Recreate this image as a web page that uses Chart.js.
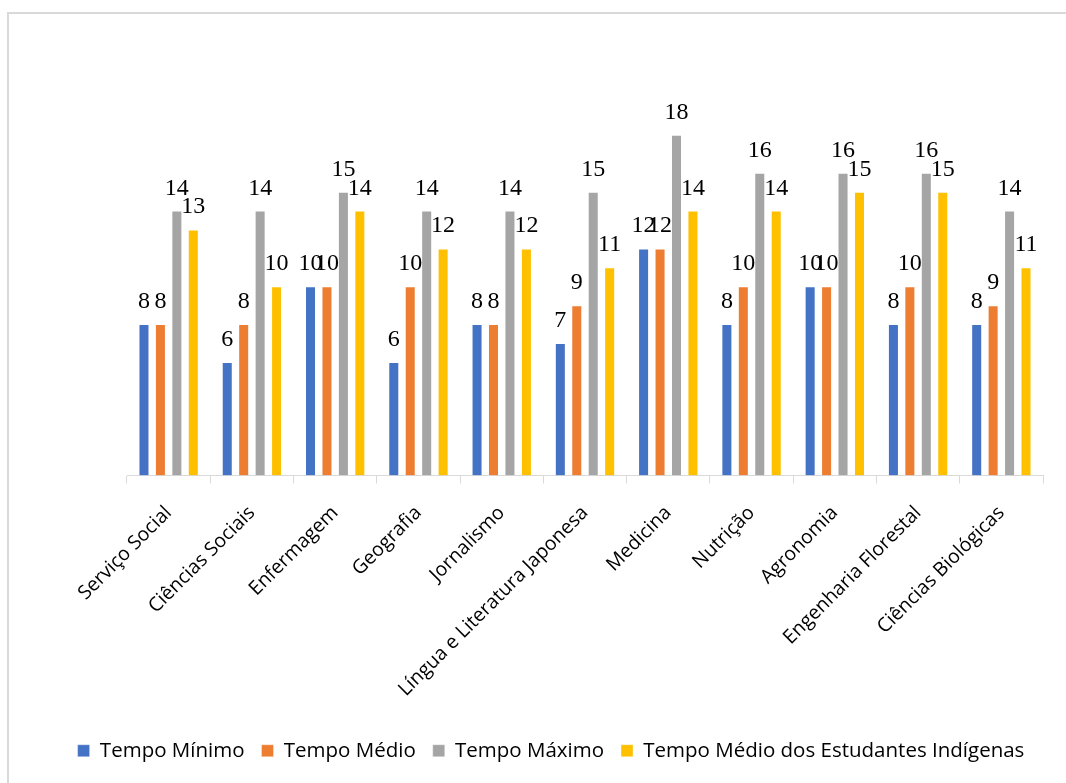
<!DOCTYPE html>
<html lang="pt">
<head>
<meta charset="utf-8">
<title>Tempo de conclusão por curso</title>
<script src="https://cdn.jsdelivr.net/npm/chart.js@4.4.1/dist/chart.umd.min.js"></script>
<style>
    html, body { margin: 0; padding: 0; background: #fff; overflow: hidden; }
    #wrap { position: relative; width: 1066px; height: 783px; overflow: hidden; }
    #frame { position: absolute; left: 7px; top: 12px; width: 1080px; height: 800px; border: 2px solid #d9d9d9; box-sizing: border-box; }
    #grafico { position: absolute; left: 0; top: 0; }
</style>
</head>
<body>
<div id="wrap">
    <div id="frame"></div>
    <canvas id="grafico" width="1066" height="783"></canvas>
</div>
<script>
// cursos e tempos (em semestres)
const cursos = ['Serviço Social', 'Ciências Sociais', 'Enfermagem', 'Geografia', 'Jornalismo',
    'Língua e Literatura Japonesa', 'Medicina', 'Nutrição', 'Agronomia', 'Engenharia Florestal', 'Ciências Biológicas'];
const tempoMinimo  = [8, 6, 10, 6, 8, 7, 12, 8, 10, 8, 8];
const tempoMedio   = [8, 8, 10, 10, 8, 9, 12, 10, 10, 10, 9];
const tempoMaximo  = [14, 14, 15, 14, 14, 15, 18, 16, 16, 16, 14];
const tempoIndigenas = [13, 10, 14, 12, 12, 11, 14, 14, 15, 15, 11];

const nomesSeries = ['Tempo Mínimo', 'Tempo Médio', 'Tempo Máximo', 'Tempo Médio dos Estudantes Indígenas'];
const cores = ['#4472C4', '#ED7D31', '#A5A5A5', '#FFC000'];

const fonteTexto = '"Open Sans", "Noto Sans", sans-serif';

// escreve o valor em cima de cada barra
const rotulosValor = {
    id: 'rotulosValor',
    afterDatasetsDraw(chart) {
        const ctx = chart.ctx;
        ctx.save();
        ctx.font = '24px "Liberation Serif", "Times New Roman", serif';
        ctx.fillStyle = '#000';
        ctx.textAlign = 'center';
        ctx.textBaseline = 'alphabetic';
        chart.data.datasets.forEach((ds, i) => {
            chart.getDatasetMeta(i).data.forEach((bar, j) => {
                ctx.fillText(ds.data[j], bar.x, bar.y - 16);
            });
        });
        ctx.restore();
    }
};

// eixo invisível, só reserva espaço lateral
const eixoOculto = (largura, lado) => ({
    display: true,
    position: lado,
    min: 0, max: 20,
    grid: { display: false },
    border: { display: false },
    ticks: { display: false },
    afterFit(scale) { scale.width = largura; }
});

const series = [tempoMinimo, tempoMedio, tempoMaximo, tempoIndigenas];

new Chart(document.getElementById('grafico'), {
    type: 'bar',
    data: {
        labels: cursos,
        datasets: series.map((valores, i) => ({
            label: nomesSeries[i],
            data: valores,
            backgroundColor: cores[i],
            borderColor: 'rgba(255,255,255,0.35)',
            borderWidth: 1,
            categoryPercentage: 0.79,
            barPercentage: 0.67
        }))
    },
    options: {
        responsive: false,
        animation: false,
        layout: { padding: { left: 36, right: 0, top: 97, bottom: 12 } },
        scales: {
            y: eixoOculto(91, 'left'),
            yDir: eixoOculto(23, 'right'),
            x: {
                grid: { display: true, drawOnChartArea: false, tickLength: 8, color: '#d9d9d9', offset: true },
                border: { color: '#d9d9d9', width: 1 },
                ticks: {
                    minRotation: 45, maxRotation: 45, padding: 18,
                    color: '#000',
                    font: { family: fonteTexto, size: 19.5 }
                },
                afterFit(scale) { scale.height = 248; }
            }
        },
        plugins: {
            legend: {
                position: 'bottom',
                labels: {
                    boxWidth: 12, boxHeight: 12, padding: 17,
                    color: '#000',
                    font: { family: fonteTexto, size: 20.5 }
                }
            },
            tooltip: { enabled: false }
        }
    },
    plugins: [rotulosValor]
});
</script>
</body>
</html>
